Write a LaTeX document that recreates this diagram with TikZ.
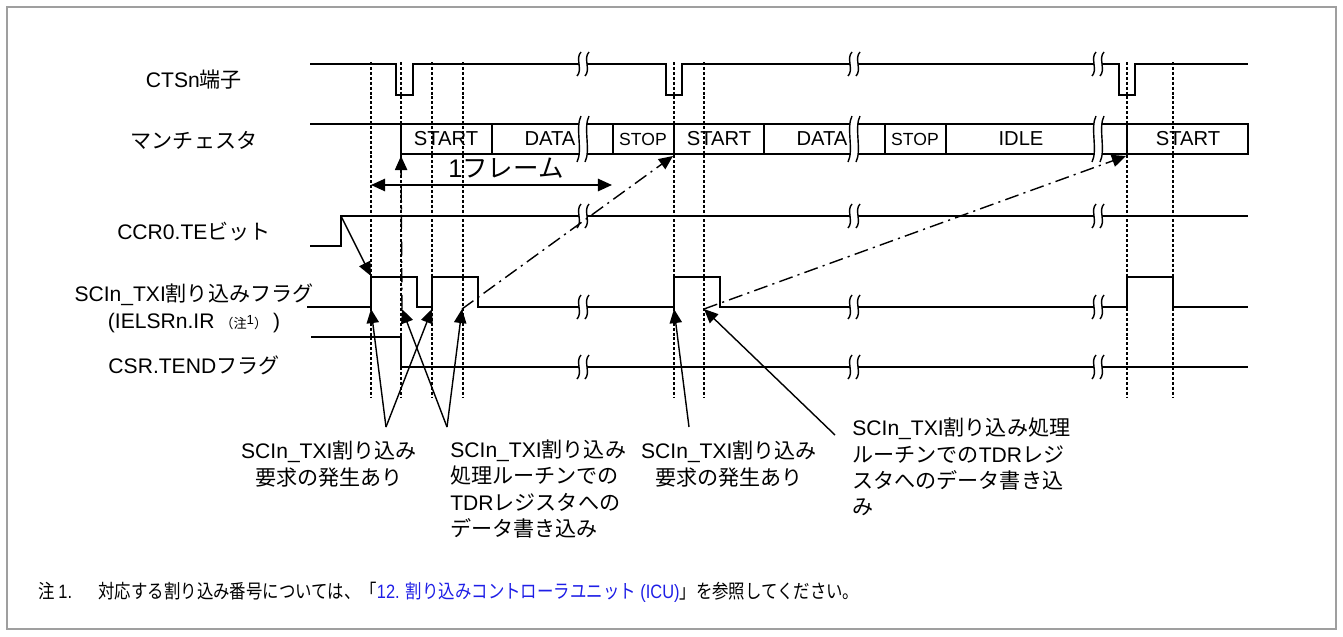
\documentclass[tikz,border=0pt]{standalone}
\usepackage{fontspec}
\setmainfont{Liberation Sans}
\newfontfamily\jpfont{Noto Sans CJK JP}
\newfontfamily\jpnarrow[FakeStretch=0.85]{Noto Sans CJK JP}
\newfontfamily\latnarrow[FakeStretch=0.85]{Liberation Sans}
\usetikzlibrary{arrows.meta,positioning,calc}
\newcommand{\jp}[1]{{\jpfont #1}}
\definecolor{refblue}{RGB}{30,30,230}

% wavy break mark: x, y, half height
\newcommand{\brkmark}[3]{%
  \begin{scope}[shift={(#1,#2)},yscale=#3]
    \fill[white] (-2,-1) .. controls (-8,-0.5) and (0,0.5) .. (-6,1) -- (2,1) .. controls (8,0.5) and (0,-0.5) .. (6,-1) -- cycle;
    \draw[brk] (-2,-1) .. controls (-8,-0.5) and (0,0.5) .. (-6,1);
    \draw[brk] (6,-1) .. controls (0,-0.5) and (8,0.5) .. (2,1);
  \end{scope}}

\begin{document}
\begin{tikzpicture}[
  x=0.02cm,y=-0.02cm,
  every node/.style={inner sep=0pt},
  sig/.style={line width=1.1pt},
  brk/.style={line width=0.8pt},
  guide/.style={line width=0.8pt,dash pattern=on 1.7pt off 1.1pt},
  ptr/.style={-{Triangle[length=8pt,width=7pt]},line width=0.8pt},
  wr/.style={ptr,dash pattern=on 8pt off 3pt on 1.2pt off 3pt},
  signame/.style={font=\fontsize{12}{15.5}\selectfont,align=center},
  cell/.style={font=\fontsize{11.5}{13}\selectfont},
  cellsm/.style={font=\fontsize{10}{12}\selectfont},
  remark/.style={font=\fontsize{12}{15}\selectfont}
]
\useasboundingbox (0,0) rectangle (1343,636);
\draw[gray!75,line width=0.6pt] (7,7) rectangle (1336,629);

% signal names
\node[signame] (cts) at (194,80) {CTSn\jp{端子}};
\node[signame] (man) at (194,140) {\jp{マンチェスタ}};
\node[signame] (te) at (194,232) {CCR0.TE\jp{ビット}};
\node[signame] (txi) at (194,308) {SCIn\_TXI\jp{割り込みフラグ}\\(IELSRn.IR {\fontsize{7.5}{8}\selectfont\jp{（注}\raisebox{2pt}{1}\jp{）}} )};
\node[signame] (tend) at (194,365) {CSR.TEND\jp{フラグ}};

% guides
\foreach \x in {371,401,432,463,674,704,1127,1173}
  \draw[guide] (\x,62) -- (\x,398);

% waveforms
\draw[sig] (310,64) -- (396,64) -- (396,95) -- (413,95) -- (413,64) -- (666,64) -- (666,95) -- (682,95) -- (682,64)
  -- (1119,64) -- (1119,95) -- (1135,95) -- (1135,64) -- (1248,64);
\draw[sig] (310,124) -- (1248,124) -- (1248,154) -- (401,154) -- (401,124);
\foreach \x in {492,613,674,764,885,946,1127}
  \draw[sig] (\x,124) -- (\x,154);
\draw[sig] (310,246) -- (341,246) -- (341,216) -- (1248,216);
\draw[sig] (307,307) -- (371,307) -- (371,277) -- (417,277) -- (417,307) -- (432,307) -- (432,277) -- (478,277) -- (478,307)
  -- (674,307) -- (674,277) -- (720,277) -- (720,307) -- (1127,307) -- (1127,277) -- (1173,277) -- (1173,307) -- (1248,307);
\draw[sig] (311,337) -- (401,337) -- (401,367) -- (1248,367);

% breaks
\foreach \x in {583,854,1098} {
  \brkmark{\x}{64}{12}
  \brkmark{\x}{139}{23}
  \brkmark{\x}{216}{12}
  \brkmark{\x}{307}{12}
  \brkmark{\x}{367}{12}
}

% frame cells
\node[cell] (mstart1) at (446,139) {START};
\node[cell] (mdata1) at (550,139) {DATA};
\node[cellsm] (mstop1) at (643,139) {STOP};
\node[cell] (mstart2) at (719,139) {START};
\node[cell] (mdata2) at (822,139) {DATA};
\node[cellsm] (mstop2) at (915,139) {STOP};
\node[cell] (midle) at (1021,139) {IDLE};
\node[cell] (mstart3) at (1188,139) {START};

% one frame
\coordinate (frmL) at (371,185);
\coordinate (frmR) at (612,185);
\draw[line width=1.1pt,{Triangle[length=8pt,width=7pt]}-{Triangle[length=8pt,width=7pt]}] (frmL) -- (frmR);
\node[font=\fontsize{14.5}{16}\selectfont] (frmlbl) at (506,168) {1\jp{フレーム}};

% enable -> first request
\coordinate (teRise) at (341,216);
\coordinate (txiRise) at (371,276);
\draw[ptr] (teRise) -- (txiRise);

% points on the flag line
\coordinate (irqA) at (371,309);
\coordinate (irqB) at (432,309);
\coordinate (wrA) at (402,309);
\coordinate (wrB) at (462,309);
\coordinate (irqC) at (674,309);
\coordinate (wrC) at (704,309);
\coordinate (mA) at (401,156);
\coordinate (mB) at (673,156);
\coordinate (mC) at (1126,156);

% writes -> start bit
\draw[wr] (wrA) -- (mA);
\draw[wr] (wrB) -- (mB);
\draw[wr] (wrC) -- (mC);

% remarks
\node[remark,align=center] (reqA) at (329,464) {SCIn\_TXI\jp{割り込み}\\\jp{要求の発生あり}};
\node[remark,align=left,anchor=west] (wrnoteA) at (450,489) {SCIn\_TXI\jp{割り込み}\\\jp{処理ルーチンでの}\\TDR\jp{レジスタへの}\\\jp{データ書き込み}};
\node[remark,align=center] (reqB) at (729,464) {SCIn\_TXI\jp{割り込み}\\\jp{要求の発生あり}};
\node[remark,align=left,anchor=west] (wrnoteB) at (852,467) {SCIn\_TXI\jp{割り込み処理}\\\jp{ルーチンでの}TDR\jp{レジ}\\\jp{スタへのデータ書き込}\\\jp{み}};

\coordinate (apexA) at (386,427);
\coordinate (apexB) at (447,427);
\coordinate (apexC) at (689,427);
\coordinate (apexD) at (835,435);
\draw[ptr] (apexA) -- (irqA);
\draw[ptr] (apexA) -- (irqB);
\draw[ptr] (apexB) -- (wrA);
\draw[ptr] (apexB) -- (wrB);
\draw[ptr] (apexC) -- (irqC);
\draw[ptr] (apexD) -- (wrC);

% footnote
\node[anchor=west,font=\fontsize{11}{13}\selectfont] (fn) at (38,592) {\jpnarrow 注 {\latnarrow 1.}\hspace{15pt}対応する割り込み番号については、「\textcolor{refblue}{{\latnarrow 12. }割り込みコントローラユニット{\latnarrow\ (ICU)}}」を参照してください。};
\end{tikzpicture}
\end{document}
